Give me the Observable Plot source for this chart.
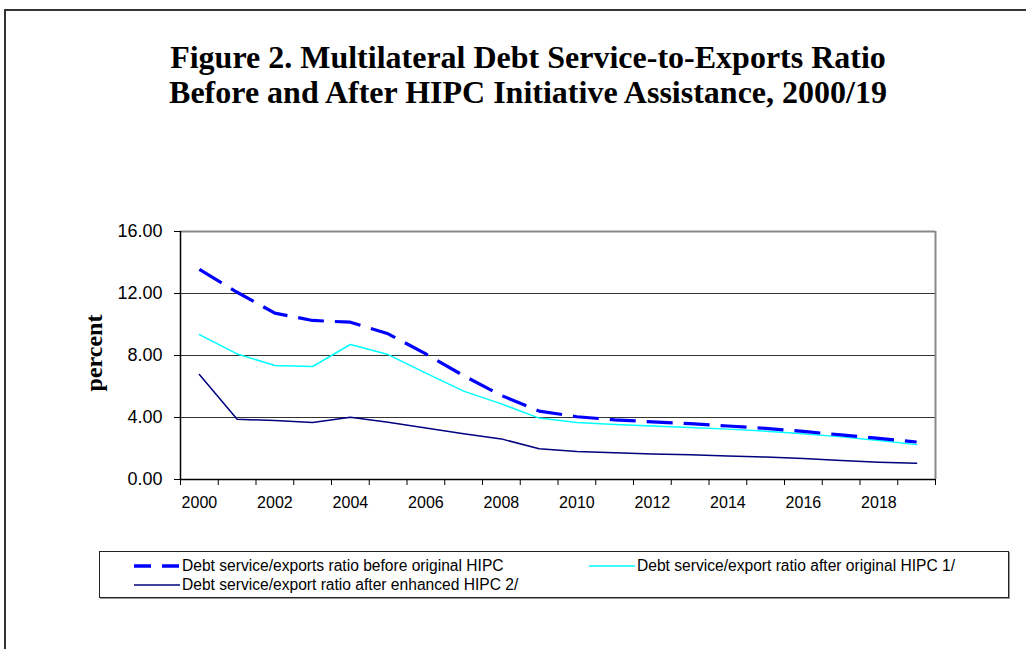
<!DOCTYPE html>
<html>
<head>
<meta charset="utf-8">
<script src="https://cdn.jsdelivr.net/npm/d3@7"></script>
<script src="https://cdn.jsdelivr.net/npm/@observablehq/plot@0.6"></script>
<style>
  html, body { margin: 0; padding: 0; background: #fff; }
  #page { position: relative; width: 1026px; height: 649px; overflow: hidden; background: #fff; }
  #frame { position: absolute; left: 4px; top: 9px; width: 1200px; height: 800px; border-left: 2px solid #333; border-top: 2px solid #333; }
  #title { position: absolute; left: 0; top: 40px; width: 1056px; text-align: center; font-family: "Liberation Serif", "Times New Roman", serif; font-weight: bold; font-size: 32px; line-height: 35px; color: #000; }
  #ylabel { position: absolute; left: 94px; top: 353px; transform: translate(-50%, -50%) rotate(-90deg); font-family: "Liberation Serif", serif; font-weight: bold; font-size: 24px; white-space: nowrap; }
  #chart { position: absolute; left: 0; top: 200px; }
  #legend { position: absolute; left: 99px; top: 551px; width: 908px; height: 45px; border: 1px solid #222; box-shadow: 1px 1px 0 #999; font-family: "Liberation Sans", Arial, sans-serif; font-size: 15.6px; color: #000; }
  .li { position: absolute; display: flex; align-items: center; white-space: nowrap; }
  .li svg { margin-right: 2px; }
</style>
</head>
<body>
<div id="page">
  <div id="frame"></div>
  <div id="title">Figure 2. Multilateral Debt Service-to-Exports Ratio<br>Before and After HIPC Initiative Assistance, 2000/19</div>
  <div id="ylabel">percent</div>
  <div id="chart"></div>
  <div id="legend"></div>
</div>
<script>
const years = [2000,2001,2002,2003,2004,2005,2006,2007,2008,2009,2010,2011,2012,2013,2014,2015,2016,2017,2018,2019];
const beforeOriginal = [13.55,12.08,10.73,10.26,10.15,9.40,8.10,6.70,5.42,4.41,4.05,3.85,3.72,3.60,3.45,3.30,3.10,2.88,2.65,2.42];
const afterOriginal  = [9.35,8.10,7.35,7.29,8.71,8.06,6.86,5.70,4.88,3.96,3.68,3.55,3.45,3.35,3.25,3.12,2.95,2.75,2.52,2.25];
const afterEnhanced  = [6.77,3.89,3.80,3.68,4.02,3.70,3.33,2.95,2.62,1.98,1.80,1.72,1.65,1.60,1.52,1.45,1.35,1.22,1.12,1.05];
const seriesNames = [
  "Debt service/exports ratio before original HIPC",
  "Debt service/export ratio after original HIPC 1/",
  "Debt service/export ratio after enhanced HIPC 2/"
];
const yTicks = [0, 4, 8, 12, 16];
const xLabelYears = [2000,2002,2004,2006,2008,2010,2012,2014,2016,2018];

const rows = (vals) => years.map((y, i) => ({year: y, value: vals[i]}));
const boundaries = [years[0] - 0.5, ...years.map(y => y + 0.5)];
const xMin = years[0] - 0.5, xMax = years[years.length - 1] + 0.5;

const chart = Plot.plot({
  width: 1026,
  height: 320,
  marginLeft: 180,
  marginRight: 91,
  marginTop: 31,
  marginBottom: 41,
  x: {type: "linear", domain: [xMin, xMax]},
  y: {domain: [yTicks[0], yTicks[yTicks.length - 1]]},
  style: {fontFamily: "'Liberation Sans', Arial, sans-serif", color: "#000", background: "transparent"},
  marks: [
    Plot.ruleY(yTicks.slice(1, -1), {stroke: "#333", strokeWidth: 1}),
    Plot.ruleY([yTicks[yTicks.length - 1]], {stroke: "#888", strokeWidth: 2}),
    Plot.ruleX([xMax], {stroke: "#888", strokeWidth: 2}),
    Plot.line(rows(afterEnhanced), {x: "year", y: "value", stroke: "#000080", strokeWidth: 1.5}),
    Plot.line(rows(afterOriginal), {x: "year", y: "value", stroke: "#00FFFF", strokeWidth: 1.5}),
    Plot.line(rows(beforeOriginal), {x: "year", y: "value", stroke: "#0000FF", strokeWidth: 3.2, strokeDasharray: "26,11", strokeLinecap: "butt"}),
    Plot.ruleX([xMin], {stroke: "#000", strokeWidth: 1.5}),
    Plot.ruleY([yTicks[0]], {stroke: "#000", strokeWidth: 1.5}),
    Plot.axisY({ticks: yTicks, tickFormat: d => d.toFixed(2), tickSize: 6, tickPadding: 12, fontSize: 18, label: null, stroke: "#000"}),
    Plot.axisX({ticks: boundaries, tickFormat: () => "", tickSize: 6, label: null, stroke: "#000"}),
    Plot.axisX({ticks: xLabelYears, tickFormat: d => String(d), tickSize: 0, tickPadding: 17, fontSize: 16, label: null})
  ]
});
document.getElementById("chart").appendChild(chart);

// Legend
const legend = document.getElementById("legend");
const items = [
  {name: seriesNames[0], stroke: "#0000FF", width: 3.5, dash: "17,11", left: 34, top: 14},
  {name: seriesNames[1], stroke: "#00FFFF", width: 1.5, dash: null, left: 489, top: 14},
  {name: seriesNames[2], stroke: "#000080", width: 1.5, dash: null, left: 34, top: 33}
];
for (const it of items) {
  const d = document.createElement("div");
  d.className = "li";
  d.style.left = it.left + "px";
  d.style.top = (it.top - 9) + "px";
  d.style.height = "18px";
  d.innerHTML = `<svg width="46" height="8"><line x1="0" x2="46" y1="4" y2="4" stroke="${it.stroke}" stroke-width="${it.width}" ${it.dash ? `stroke-dasharray="${it.dash}"` : ""}/></svg><span>${it.name}</span>`;
  legend.appendChild(d);
}
</script>
</body>
</html>
